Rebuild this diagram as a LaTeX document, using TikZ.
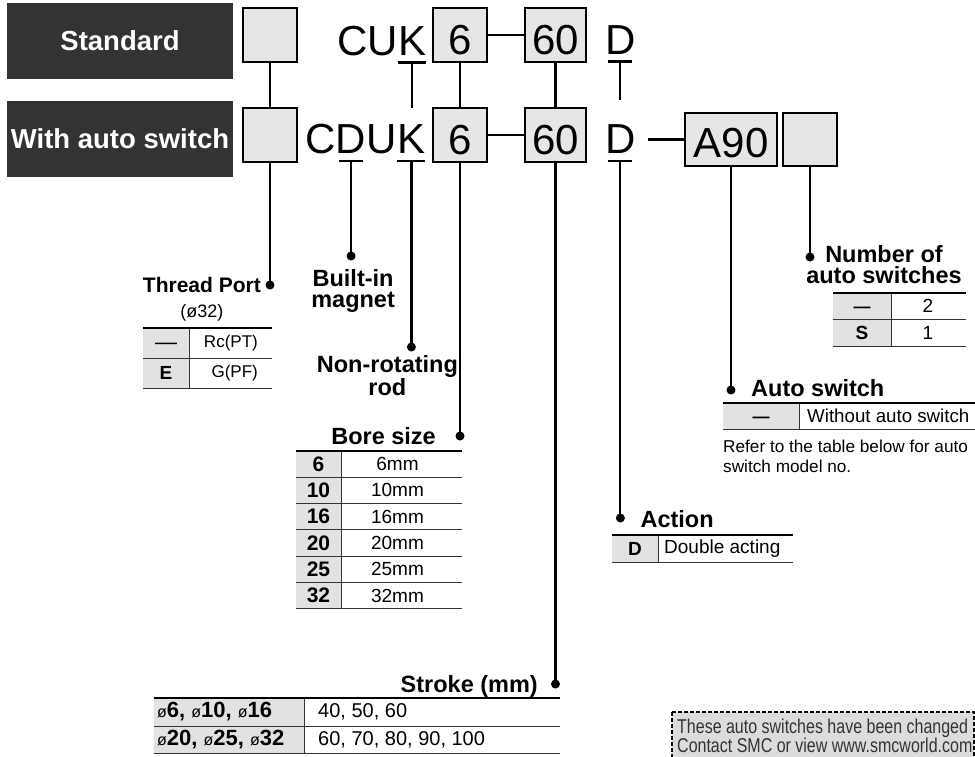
\documentclass[tikz,border=0pt]{standalone}
\usepackage{fontspec}
\setmainfont{Liberation Sans}
\newfontfamily\notefont[FakeStretch=0.8]{Liberation Sans}
\usetikzlibrary{positioning}

\definecolor{hdrgray}{HTML}{333333}
\definecolor{boxgray}{HTML}{E6E6E6}
\definecolor{cellgray}{HTML}{E2E2E2}
\definecolor{notegray}{HTML}{DCDCDC}
\definecolor{rulegray}{HTML}{333333}

\newcommand{\fsz}[1]{\fontsize{#1}{#1}\selectfont}
\newcommand{\diam}[1]{{\mdseries\fsz{16}ø}#1}

\begin{document}
\begin{tikzpicture}[x=1pt, y=-1pt,
  hdr/.style={fill=hdrgray, text=white, minimum width=226pt, minimum height=76pt,
              inner sep=0pt, font=\bfseries\fsz{27.5}},
  codebox/.style={draw, line width=1.8pt, fill=boxgray, minimum width=54pt,
                  minimum height=54pt, inner sep=0pt, text height=39pt,
                  text depth=0pt, font=\fsz{42}},
  code/.style={inner sep=0pt, font=\fsz{42}},
  lead/.style={line width=2.2pt},
  leaddot/.style={circle, fill, inner sep=0pt, minimum size=9pt},
  hname/.style={inner sep=0pt, font=\bfseries\fontsize{23.5}{21}\selectfont, align=center},
  keycell/.style={inner sep=0pt, font=\bfseries\fsz{21}},
  valcell/.style={inner sep=0pt, font=\fsz{19}},
  dashcell/.style={inner sep=0pt, anchor=base},
  topline/.style={line width=2pt},
  rowline/.style={line width=0.9pt, draw=rulegray}
]
  \useasboundingbox (0,0) rectangle (975,756);

  % model code, standard row
  \node[hdr] (std) at (120,41) {Standard};
  \node[codebox] (opt1) at (270,35) {};
  \node[code, anchor=base west] (cu1) at (337,55) {CU};
  \node[code, anchor=base west] (k1) at (cu1.base east) {K};
  \node[codebox] (bore1) at (460,35) {6};
  \node[codebox, minimum width=61pt] (strk1) at (555.5,35) {60};
  \node[code, anchor=base west] (act1) at (605,54) {D};

  % model code, with auto switch row
  \node[hdr] (withsw) at (120,139) {With auto switch};
  \node[codebox] (opt2) at (270,135) {};
  \node[code, anchor=base west] (c2) at (305,153) {C};
  \node[code, anchor=base west] (d2) at (c2.base east) {D};
  \node[code, anchor=base west] (u2) at (d2.base east) {U};
  \node[code, anchor=base west] (k2) at (u2.base east) {K};
  \node[codebox] (bore2) at (460,135) {6};
  \node[codebox, minimum width=61pt] (strk2) at (555.5,135) {60};
  \node[code, anchor=base west] (act2) at (605,153) {D};
  \node[codebox, minimum width=92pt, minimum height=53pt, text height=35pt] (sw) at (731,139.5) {A90};
  \node[codebox, minimum height=53pt] (swnum) at (810,139.5) {};

  % underlines
  \coordinate (k1u) at ([yshift=-7.5pt]k1.base);
  \coordinate (d1u) at ([yshift=-7.5pt]act1.base);
  \coordinate (d2u) at ([yshift=-8pt]d2.base);
  \coordinate (k2u) at ([yshift=-8pt]k2.base);
  \coordinate (a2u) at ([yshift=-8pt]act2.base);
  \draw[lead] ([xshift=-14pt]k1u) -- ([xshift=14pt]k1u);
  \draw[lead] ([xshift=-12pt]d1u) -- ([xshift=12pt]d1u);
  \draw[lead] ([xshift=-12pt]d2u) -- ([xshift=12pt]d2u);
  \draw[lead] ([xshift=-14pt]k2u) -- ([xshift=14pt]k2u);
  \draw[lead] ([xshift=-12pt]a2u) -- ([xshift=12pt]a2u);

  % links between the rows
  \coordinate (k1stub) at ([yshift=-45pt]k1u);
  \coordinate (d1stub) at ([yshift=-38pt]d1u);
  \draw[lead] (opt1) -- (opt2);
  \draw[lead] (k1u) -- (k1stub);
  \draw[lead] (bore1) -- (bore2);
  \draw[lead] (strk1) -- (strk2);
  \draw[lead] (d1u) -- (d1stub);
  \draw[lead] (bore1) -- (strk1);
  \draw[lead] (bore2) -- (strk2);
  \coordinate (swdash) at ([xshift=12pt]act2.east |- sw.west);
  \draw[lead] (swdash) -- (sw.west);

  % lead dots
  \node[leaddot] (tpdot)  at (opt2 |- 0,285) {};
  \node[leaddot] (magdot) at (d2u |- 0,256) {};
  \node[leaddot] (roddot) at (k2u |- 0,347) {};
  \node[leaddot] (boredot) at (bore2 |- 0,436) {};
  \node[leaddot] (strkdot) at (strk2 |- 0,684) {};
  \node[leaddot] (actdot) at (a2u |- 0,518) {};
  \node[leaddot] (swdot)  at (sw |- 0,390) {};
  \node[leaddot] (numdot) at (swnum |- 0,257) {};

  \draw[lead] (opt2) -- (tpdot.center);
  \draw[lead] (d2u) -- (magdot.center);
  \draw[lead] (k2u) -- (roddot.center);
  \draw[lead] (bore2) -- (boredot.center);
  \draw[lead] (strk2) -- (strkdot.center);
  \draw[lead] (a2u) -- (actdot.center);
  \draw[lead] (sw) -- (swdot.center);
  \draw[lead] (swnum) -- (numdot.center);

  % headings
  \node[hname, font=\bfseries\fsz{21}, anchor=base east] (tplbl) at ([xshift=-9pt,yshift=-7pt]tpdot.center) {Thread Port};
  \node[valcell, font=\fsz{18}, below=12pt of tplbl] (tpsize) {(ø32)};
  \node[hname, anchor=north] (maglbl) at ([xshift=2pt,yshift=-13pt]magdot.center) {Built-in\\magnet};
  \node[hname, anchor=north] (rodlbl) at ([xshift=-24pt,yshift=-8pt]roddot.center) {Non-rotating\\rod};
  \node[hname, anchor=base east] (borelbl) at ([xshift=-24pt,yshift=-8pt]boredot.center) {Bore size};
  \node[hname, anchor=base east] (strklbl) at ([xshift=-17.5pt,yshift=-8pt]strkdot.center) {Stroke (mm)};
  \node[hname, anchor=base west] (actlbl) at ([xshift=20pt,yshift=-9pt]actdot.center) {Action};
  \node[hname, anchor=base west] (swlbl) at ([xshift=20pt,yshift=-6pt]swdot.center) {Auto switch};
  \node[hname, anchor=north] (numlbl) at ([xshift=74pt,yshift=12pt]numdot.center) {Number of\\auto switches};

  % thread port table
  \fill[cellgray] (143,328) rectangle (189,388);
  \draw[rowline] (143,358) -- (272,358);
  \draw[rowline] (143,388) -- (272,388);
  \draw[rowline] (189,328) -- (189,388);
  \draw[topline] (143,328) -- (272,328);
  \node[dashcell, font=\fsz{22}] (tpk1) at (166,349) {\textemdash};
  \node[keycell, font=\bfseries\fsz{19}] (tpk2) at (166,373) {E};
  \node[valcell, font=\fsz{17}, anchor=east] (tpv1) at (258,343) {Rc(PT)};
  \node[valcell, font=\fsz{17}, anchor=east] (tpv2) at (258,373) {G(PF)};

  % bore size table
  \fill[cellgray] (296,451) rectangle (341,609);
  \foreach \bcode/\bval [count=\i] in {6/6mm,10/10mm,16/16mm,20/20mm,25/25mm,32/32mm}{
    \node[keycell] (bk\i) at (318.5,{451+26.3*\i-13.15}) {\bcode};
    \node[valcell] (bv\i) at (397.5,{451+26.3*\i-13.15}) {\bval};
    \draw[rowline] (296,{451+26.3*\i}) -- (462,{451+26.3*\i});
  }
  \draw[rowline] (341,451) -- (341,609);
  \draw[topline] (296,451) -- (462,451);

  % action table
  \fill[cellgray] (612,535) rectangle (658,562);
  \draw[rowline] (612,562) -- (793,562);
  \draw[rowline] (658,535) -- (658,562);
  \draw[topline] (612,535) -- (793,535);
  \node[keycell, font=\bfseries\fsz{19}] (actk) at (635,548.5) {D};
  \node[valcell, anchor=west] (actv) at (664,548.5) {Double acting};

  % auto switch table
  \fill[cellgray] (723,403) rectangle (799,429);
  \draw[rowline] (723,429) -- (980,429);
  \draw[rowline] (799,403) -- (799,429);
  \draw[topline] (723,403) -- (980,403);
  \node[dashcell, font=\bfseries\fsz{17}] (swk) at (761,422) {\textemdash};
  \node[valcell, font=\fsz{18.7}, anchor=west] (swv) at (807,416) {Without auto switch};
  \node[inner sep=0pt, anchor=north west, align=left, font=\fontsize{17.2}{20}\selectfont]
    (swref) at (723,439.5) {Refer to the table below for auto\\switch model no.};

  % number of auto switches table
  \fill[cellgray] (833,293) rectangle (891,346);
  \draw[rowline] (833,319) -- (966,319);
  \draw[rowline] (833,346) -- (966,346);
  \draw[rowline] (891,293) -- (891,346);
  \draw[topline] (833,293) -- (966,293);
  \node[dashcell, font=\bfseries\fsz{17}] (numk1) at (862,312) {\textemdash};
  \node[keycell, font=\bfseries\fsz{19}] (numk2) at (862,332.5) {S};
  \node[valcell] (numv1) at (928,306) {2};
  \node[valcell] (numv2) at (928,332.5) {1};

  % stroke table
  \fill[cellgray] (154,698) rectangle (304,753);
  \draw[rowline] (154,726) -- (560,726);
  \draw[rowline] (154,753) -- (560,753);
  \draw[rowline] (304,698) -- (304,753);
  \draw[topline] (154,698) -- (560,698);
  \node[keycell, font=\bfseries\fsz{22}, anchor=west] (stk1) at (157,712) {\diam{6}, \diam{10}, \diam{16}};
  \node[keycell, font=\bfseries\fsz{22}, anchor=west] (stk2) at (157,739.5) {\diam{20}, \diam{25}, \diam{32}};
  \node[valcell, font=\fsz{20}, anchor=west] (stv1) at (318,712) {40, 50, 60};
  \node[valcell, font=\fsz{20}, anchor=west] (stv2) at (318,739.5) {60, 70, 80, 90, 100};

  % changed-switch note
  \filldraw[fill=notegray, line width=1.8pt, dash pattern=on 4pt off 2pt] (672,712) rectangle (974,775);
  \node[inner sep=0pt, anchor=north west, align=left, text=hdrgray,
        font=\notefont\fontsize{20}{19}\selectfont] (note) at (677,718.5)
    {These auto switches have been changed\\Contact SMC or view www.smcworld.com};
\end{tikzpicture}
\end{document}
